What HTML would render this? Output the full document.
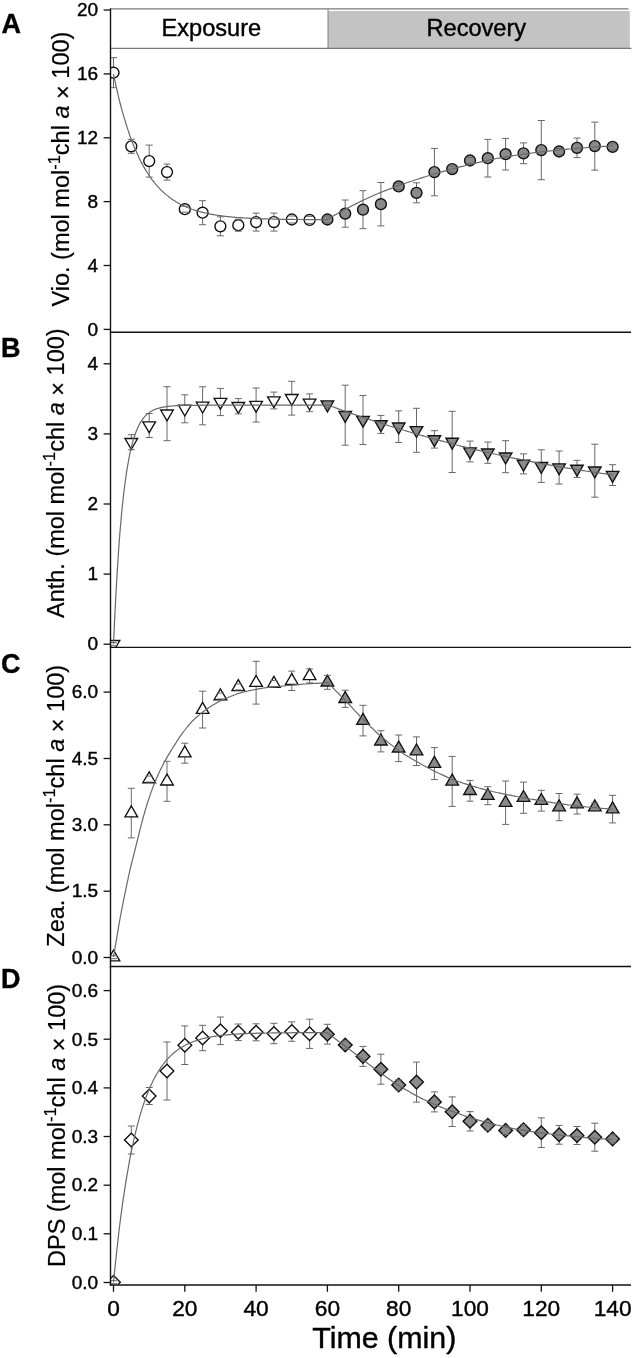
<!DOCTYPE html>
<html><head><meta charset="utf-8"><title>Figure</title>
<style>html,body{margin:0;padding:0;background:#fff}svg{display:block}</style></head>
<body>
<svg width="633" height="1358" viewBox="0 0 633 1358" font-family="'Liberation Sans', sans-serif" fill="#000">
<style>text{stroke:#000;stroke-width:0.4px}</style>
<defs>
<clipPath id="clipA"><rect x="110.5" y="9" width="523" height="323.2"/></clipPath>
<clipPath id="clipB"><rect x="110.5" y="332.2" width="523" height="315.1"/></clipPath>
<clipPath id="clipC"><rect x="110.5" y="647.3" width="523" height="318.9"/></clipPath>
<clipPath id="clipD"><rect x="110.5" y="966.2" width="523" height="318.3"/></clipPath>
</defs>
<rect width="633" height="1358" fill="#fff"/>
<path d="M110,8.9H628.5" stroke="#7a7a7a" stroke-width="1.2" fill="none"/><rect x="328" y="11" width="301.8" height="37.2" fill="#c3c3c3"/><path d="M110,48.3H631.4" stroke="#777" stroke-width="1.2" fill="none"/><path d="M328,9V48.3" stroke="#808080" stroke-width="1" fill="none"/><text x="211.4" y="36.2" font-size="23.6" text-anchor="middle">Exposure</text><text x="476.3" y="36.2" font-size="23.6" text-anchor="middle">Recovery</text>
<g id="panelA" clip-path="url(#clipA)"><path d="M113.5,57.7V87.7" stroke="#686868" stroke-width="1" fill="none"/><path d="M131.3,139.3V153.3" stroke="#686868" stroke-width="1" fill="none"/><path d="M149.2,145.1V177.1" stroke="#686868" stroke-width="1" fill="none"/><path d="M167.0,164.1V180.1" stroke="#686868" stroke-width="1" fill="none"/><path d="M184.8,206.2V212.2" stroke="#686868" stroke-width="1" fill="none"/><path d="M202.6,200.7V224.7" stroke="#686868" stroke-width="1" fill="none"/><path d="M220.4,216.8V235.8" stroke="#686868" stroke-width="1" fill="none"/><path d="M238.3,219.2V231.2" stroke="#686868" stroke-width="1" fill="none"/><path d="M256.1,213.1V231.1" stroke="#686868" stroke-width="1" fill="none"/><path d="M273.9,213.1V231.1" stroke="#686868" stroke-width="1" fill="none"/><path d="M291.8,216.0V223.0" stroke="#686868" stroke-width="1" fill="none"/><path d="M309.6,216.4V223.4" stroke="#686868" stroke-width="1" fill="none"/><path d="M327.4,216.0V223.0" stroke="#686868" stroke-width="1" fill="none"/><path d="M345.2,200.0V227.2" stroke="#686868" stroke-width="1" fill="none"/><path d="M363.0,190.7V228.7" stroke="#686868" stroke-width="1" fill="none"/><path d="M380.9,182.5V225.9" stroke="#686868" stroke-width="1" fill="none"/><path d="M398.7,183.4V189.4" stroke="#686868" stroke-width="1" fill="none"/><path d="M416.5,182.8V202.8" stroke="#686868" stroke-width="1" fill="none"/><path d="M434.4,148.4V195.8" stroke="#686868" stroke-width="1" fill="none"/><path d="M452.2,166.1V172.1" stroke="#686868" stroke-width="1" fill="none"/><path d="M470.0,157.5V163.5" stroke="#686868" stroke-width="1" fill="none"/><path d="M487.8,139.4V177.0" stroke="#686868" stroke-width="1" fill="none"/><path d="M505.6,138.4V170.0" stroke="#686868" stroke-width="1" fill="none"/><path d="M523.5,142.9V163.7" stroke="#686868" stroke-width="1" fill="none"/><path d="M541.3,120.5V179.7" stroke="#686868" stroke-width="1" fill="none"/><path d="M559.1,148.5V154.5" stroke="#686868" stroke-width="1" fill="none"/><path d="M577.0,138.0V157.6" stroke="#686868" stroke-width="1" fill="none"/><path d="M594.8,122.1V170.1" stroke="#686868" stroke-width="1" fill="none"/><path d="M612.6,143.8V149.8" stroke="#686868" stroke-width="1" fill="none"/><circle cx="113.5" cy="72.7" r="5.45" fill="#fff" stroke="#111" stroke-width="1.4"/><circle cx="131.3" cy="146.3" r="5.45" fill="#fff" stroke="#111" stroke-width="1.4"/><circle cx="149.2" cy="161.1" r="5.45" fill="#fff" stroke="#111" stroke-width="1.4"/><circle cx="167.0" cy="172.1" r="5.45" fill="#fff" stroke="#111" stroke-width="1.4"/><circle cx="184.8" cy="209.2" r="5.45" fill="#fff" stroke="#111" stroke-width="1.4"/><circle cx="202.6" cy="212.7" r="5.45" fill="#fff" stroke="#111" stroke-width="1.4"/><circle cx="220.4" cy="226.3" r="5.45" fill="#fff" stroke="#111" stroke-width="1.4"/><circle cx="238.3" cy="225.2" r="5.45" fill="#fff" stroke="#111" stroke-width="1.4"/><circle cx="256.1" cy="222.1" r="5.45" fill="#fff" stroke="#111" stroke-width="1.4"/><circle cx="273.9" cy="222.1" r="5.45" fill="#fff" stroke="#111" stroke-width="1.4"/><circle cx="291.8" cy="219.5" r="5.45" fill="#fff" stroke="#111" stroke-width="1.4"/><circle cx="309.6" cy="219.9" r="5.45" fill="#fff" stroke="#111" stroke-width="1.4"/><circle cx="327.4" cy="219.5" r="5.45" fill="#8a8a8a" stroke="#111" stroke-width="1.4"/><circle cx="345.2" cy="213.6" r="5.45" fill="#8a8a8a" stroke="#111" stroke-width="1.4"/><circle cx="363.0" cy="209.7" r="5.45" fill="#8a8a8a" stroke="#111" stroke-width="1.4"/><circle cx="380.9" cy="204.2" r="5.45" fill="#8a8a8a" stroke="#111" stroke-width="1.4"/><circle cx="398.7" cy="186.4" r="5.45" fill="#8a8a8a" stroke="#111" stroke-width="1.4"/><circle cx="416.5" cy="192.8" r="5.45" fill="#8a8a8a" stroke="#111" stroke-width="1.4"/><circle cx="434.4" cy="172.1" r="5.45" fill="#8a8a8a" stroke="#111" stroke-width="1.4"/><circle cx="452.2" cy="169.1" r="5.45" fill="#8a8a8a" stroke="#111" stroke-width="1.4"/><circle cx="470.0" cy="160.5" r="5.45" fill="#8a8a8a" stroke="#111" stroke-width="1.4"/><circle cx="487.8" cy="158.2" r="5.45" fill="#8a8a8a" stroke="#111" stroke-width="1.4"/><circle cx="505.6" cy="154.2" r="5.45" fill="#8a8a8a" stroke="#111" stroke-width="1.4"/><circle cx="523.5" cy="153.3" r="5.45" fill="#8a8a8a" stroke="#111" stroke-width="1.4"/><circle cx="541.3" cy="150.1" r="5.45" fill="#8a8a8a" stroke="#111" stroke-width="1.4"/><circle cx="559.1" cy="151.5" r="5.45" fill="#8a8a8a" stroke="#111" stroke-width="1.4"/><circle cx="577.0" cy="147.8" r="5.45" fill="#8a8a8a" stroke="#111" stroke-width="1.4"/><circle cx="594.8" cy="146.1" r="5.45" fill="#8a8a8a" stroke="#111" stroke-width="1.4"/><circle cx="612.6" cy="146.8" r="5.45" fill="#8a8a8a" stroke="#111" stroke-width="1.4"/><path d="M110.0,57.7H117.0M110.0,87.7H117.0" stroke="#686868" stroke-width="1" fill="none"/><path d="M127.8,139.3H134.8M127.8,153.3H134.8" stroke="#686868" stroke-width="1" fill="none"/><path d="M145.7,145.1H152.7M145.7,177.1H152.7" stroke="#686868" stroke-width="1" fill="none"/><path d="M163.5,164.1H170.5M163.5,180.1H170.5" stroke="#686868" stroke-width="1" fill="none"/><path d="M181.3,206.2H188.3M181.3,212.2H188.3" stroke="#686868" stroke-width="1" fill="none"/><path d="M199.1,200.7H206.1M199.1,224.7H206.1" stroke="#686868" stroke-width="1" fill="none"/><path d="M216.9,216.8H223.9M216.9,235.8H223.9" stroke="#686868" stroke-width="1" fill="none"/><path d="M234.8,219.2H241.8M234.8,231.2H241.8" stroke="#686868" stroke-width="1" fill="none"/><path d="M252.6,213.1H259.6M252.6,231.1H259.6" stroke="#686868" stroke-width="1" fill="none"/><path d="M270.4,213.1H277.4M270.4,231.1H277.4" stroke="#686868" stroke-width="1" fill="none"/><path d="M288.2,216.0H295.2M288.2,223.0H295.2" stroke="#686868" stroke-width="1" fill="none"/><path d="M306.1,216.4H313.1M306.1,223.4H313.1" stroke="#686868" stroke-width="1" fill="none"/><path d="M323.9,216.0H330.9M323.9,223.0H330.9" stroke="#686868" stroke-width="1" fill="none"/><path d="M341.7,200.0H348.7M341.7,227.2H348.7" stroke="#686868" stroke-width="1" fill="none"/><path d="M359.5,190.7H366.5M359.5,228.7H366.5" stroke="#686868" stroke-width="1" fill="none"/><path d="M377.4,182.5H384.4M377.4,225.9H384.4" stroke="#686868" stroke-width="1" fill="none"/><path d="M395.2,183.4H402.2M395.2,189.4H402.2" stroke="#686868" stroke-width="1" fill="none"/><path d="M413.0,182.8H420.0M413.0,202.8H420.0" stroke="#686868" stroke-width="1" fill="none"/><path d="M430.9,148.4H437.9M430.9,195.8H437.9" stroke="#686868" stroke-width="1" fill="none"/><path d="M448.7,166.1H455.7M448.7,172.1H455.7" stroke="#686868" stroke-width="1" fill="none"/><path d="M466.5,157.5H473.5M466.5,163.5H473.5" stroke="#686868" stroke-width="1" fill="none"/><path d="M484.3,139.4H491.3M484.3,177.0H491.3" stroke="#686868" stroke-width="1" fill="none"/><path d="M502.1,138.4H509.1M502.1,170.0H509.1" stroke="#686868" stroke-width="1" fill="none"/><path d="M520.0,142.9H527.0M520.0,163.7H527.0" stroke="#686868" stroke-width="1" fill="none"/><path d="M537.8,120.5H544.8M537.8,179.7H544.8" stroke="#686868" stroke-width="1" fill="none"/><path d="M555.6,148.5H562.6M555.6,154.5H562.6" stroke="#686868" stroke-width="1" fill="none"/><path d="M573.5,138.0H580.5M573.5,157.6H580.5" stroke="#686868" stroke-width="1" fill="none"/><path d="M591.3,122.1H598.3M591.3,170.1H598.3" stroke="#686868" stroke-width="1" fill="none"/><path d="M609.1,143.8H616.1M609.1,149.8H616.1" stroke="#686868" stroke-width="1" fill="none"/><path d="M113.5,74.2 L114.4,78.5 L115.3,82.6 L116.2,86.6 L117.1,90.5 L118.0,94.3 L118.8,98.0 L119.7,101.6 L120.6,105.0 L121.5,108.4 L122.4,111.7 L123.3,114.9 L124.2,117.9 L125.1,120.9 L126.0,123.8 L126.9,126.6 L127.8,129.4 L128.7,132.0 L129.5,134.6 L130.4,137.1 L131.3,139.5 L132.2,141.9 L133.1,144.2 L134.0,146.4 L134.9,148.5 L135.8,150.6 L136.7,152.6 L137.6,154.6 L138.5,156.5 L139.3,158.4 L140.2,160.2 L141.1,161.9 L142.0,163.6 L142.9,165.3 L143.8,166.9 L144.7,168.4 L145.6,169.9 L146.5,171.4 L147.4,172.8 L148.3,174.2 L149.2,175.5 L150.0,176.8 L150.9,178.1 L151.8,179.3 L152.7,180.5 L153.6,181.6 L154.5,182.8 L155.4,183.9 L156.3,184.9 L157.2,185.9 L158.1,186.9 L159.0,187.9 L159.8,188.8 L160.7,189.7 L161.6,190.6 L162.5,191.5 L163.4,192.3 L164.3,193.1 L165.2,193.9 L166.1,194.6 L167.0,195.4 L167.9,196.1 L168.8,196.8 L169.6,197.5 L170.5,198.1 L171.4,198.8 L172.3,199.4 L173.2,200.0 L174.1,200.6 L175.0,201.1 L175.9,201.7 L176.8,202.2 L177.7,202.7 L178.6,203.2 L179.5,203.7 L180.3,204.2 L181.2,204.6 L182.1,205.1 L183.0,205.5 L183.9,205.9 L184.8,206.3 L185.7,206.7 L186.6,207.1 L187.5,207.5 L188.4,207.8 L189.3,208.2 L190.1,208.5 L191.0,208.9 L191.9,209.2 L192.8,209.5 L193.7,209.8 L194.6,210.1 L195.5,210.4 L196.4,210.7 L197.3,210.9 L198.2,211.2 L199.1,211.4 L200.0,211.7 L200.8,211.9 L201.7,212.2 L202.6,212.4 L203.5,212.6 L204.4,212.8 L205.3,213.0 L206.2,213.2 L207.1,213.4 L208.0,213.6 L208.9,213.8 L209.8,213.9 L210.6,214.1 L211.5,214.3 L212.4,214.4 L213.3,214.6 L214.2,214.8 L215.1,214.9 L216.0,215.0 L216.9,215.2 L217.8,215.3 L218.7,215.5 L219.6,215.6 L220.4,215.7 L221.3,215.8 L222.2,215.9 L223.1,216.1 L224.0,216.2 L224.9,216.3 L225.8,216.4 L226.7,216.5 L227.6,216.6 L228.5,216.7 L229.4,216.8 L230.3,216.8 L231.1,216.9 L232.0,217.0 L232.9,217.1 L233.8,217.2 L234.7,217.3 L235.6,217.3 L236.5,217.4 L237.4,217.5 L238.3,217.5 L239.2,217.6 L240.1,217.7 L240.9,217.7 L241.8,217.8 L242.7,217.9 L243.6,217.9 L244.5,218.0 L245.4,218.0 L246.3,218.1 L247.2,218.1 L248.1,218.2 L249.0,218.2 L249.9,218.3 L250.8,218.3 L251.6,218.4 L252.5,218.4 L253.4,218.4 L254.3,218.5 L255.2,218.5 L256.1,218.6 L257.0,218.6 L257.9,218.6 L258.8,218.7 L259.7,218.7 L260.6,218.7 L261.4,218.8 L262.3,218.8 L263.2,218.8 L264.1,218.8 L265.0,218.9 L265.9,218.9 L266.8,218.9 L267.7,219.0 L268.6,219.0 L269.5,219.0 L270.4,219.0 L271.3,219.0 L272.1,219.1 L273.0,219.1 L273.9,219.1 L274.8,219.1 L275.7,219.2 L276.6,219.2 L277.5,219.2 L278.4,219.2 L279.3,219.2 L280.2,219.2 L281.1,219.3 L281.9,219.3 L282.8,219.3 L283.7,219.3 L284.6,219.3 L285.5,219.3 L286.4,219.3 L287.3,219.4 L288.2,219.4 L289.1,219.4 L290.0,219.4 L290.9,219.4 L291.8,219.4 L292.6,219.4 L293.5,219.4 L294.4,219.5 L295.3,219.5 L296.2,219.5 L297.1,219.5 L298.0,219.5 L298.9,219.5 L299.8,219.5 L300.7,219.5 L301.6,219.5 L302.4,219.5 L303.3,219.5 L304.2,219.6 L305.1,219.6 L306.0,219.6 L306.9,219.6 L307.8,219.6 L308.7,219.6 L309.6,219.6 L310.5,219.6 L311.4,219.6 L312.2,219.6 L313.1,219.6 L314.0,219.6 L314.9,219.6 L315.8,219.6 L316.7,219.6 L317.6,219.6 L318.5,219.6 L319.4,219.6 L320.3,219.7 L321.2,219.7 L322.1,219.7 L322.9,219.7 L323.8,219.7 L324.7,219.7 L325.6,219.7 L326.5,219.7 L327.4,219.7 L327.4,219.2 L329.6,218.0 L331.9,216.7 L334.1,215.4 L336.3,214.2 L338.5,212.9 L340.8,211.7 L343.0,210.5 L345.2,209.3 L347.5,208.1 L349.7,207.0 L351.9,205.8 L354.1,204.7 L356.4,203.6 L358.6,202.5 L360.8,201.4 L363.0,200.3 L365.3,199.3 L367.5,198.2 L369.7,197.2 L372.0,196.2 L374.2,195.2 L376.4,194.3 L378.6,193.3 L380.9,192.4 L383.1,191.5 L385.3,190.6 L387.6,189.7 L389.8,188.9 L392.0,188.1 L394.2,187.2 L396.5,186.4 L398.7,185.6 L400.9,184.8 L403.2,184.0 L405.4,183.2 L407.6,182.5 L409.8,181.7 L412.1,181.0 L414.3,180.2 L416.5,179.5 L418.8,178.8 L421.0,178.1 L423.2,177.4 L425.4,176.7 L427.7,176.0 L429.9,175.3 L432.1,174.7 L434.4,174.0 L436.6,173.3 L438.8,172.7 L441.0,172.1 L443.3,171.4 L445.5,170.8 L447.7,170.2 L449.9,169.6 L452.2,169.0 L454.4,168.4 L456.6,167.8 L458.9,167.2 L461.1,166.6 L463.3,166.1 L465.5,165.5 L467.8,164.9 L470.0,164.4 L472.2,163.9 L474.5,163.3 L476.7,162.8 L478.9,162.3 L481.1,161.8 L483.4,161.3 L485.6,160.8 L487.8,160.3 L490.1,159.8 L492.3,159.4 L494.5,158.9 L496.7,158.5 L499.0,158.1 L501.2,157.7 L503.4,157.3 L505.6,156.9 L507.9,156.5 L510.1,156.2 L512.3,155.8 L514.6,155.5 L516.8,155.2 L519.0,154.8 L521.2,154.5 L523.5,154.2 L525.7,153.9 L527.9,153.6 L530.2,153.3 L532.4,153.0 L534.6,152.7 L536.8,152.4 L539.1,152.2 L541.3,151.9 L543.5,151.6 L545.8,151.4 L548.0,151.1 L550.2,150.9 L552.4,150.7 L554.7,150.4 L556.9,150.2 L559.1,150.0 L561.4,149.8 L563.6,149.6 L565.8,149.4 L568.0,149.2 L570.3,149.0 L572.5,148.8 L574.7,148.6 L577.0,148.4 L579.2,148.2 L581.4,148.0 L583.6,147.8 L585.9,147.7 L588.1,147.5 L590.3,147.3 L592.5,147.2 L594.8,147.0 L597.0,146.8 L599.2,146.7 L601.5,146.6 L603.7,146.4 L605.9,146.3 L608.1,146.2 L610.4,146.0 L612.6,145.9" fill="none" stroke="#686868" stroke-width="1.2" stroke-linejoin="round"/></g><g id="panelB" clip-path="url(#clipB)"><path d="M113.5,642.7V645.7" stroke="#686868" stroke-width="1" fill="none"/><path d="M131.3,434.7V449.7" stroke="#686868" stroke-width="1" fill="none"/><path d="M149.2,413.5V437.5" stroke="#686868" stroke-width="1" fill="none"/><path d="M167.0,386.7V440.7" stroke="#686868" stroke-width="1" fill="none"/><path d="M184.8,394.8V422.8" stroke="#686868" stroke-width="1" fill="none"/><path d="M202.6,386.8V424.8" stroke="#686868" stroke-width="1" fill="none"/><path d="M220.4,388.4V415.6" stroke="#686868" stroke-width="1" fill="none"/><path d="M238.3,398.6V413.8" stroke="#686868" stroke-width="1" fill="none"/><path d="M256.1,388.0V422.0" stroke="#686868" stroke-width="1" fill="none"/><path d="M273.9,392.1V408.9" stroke="#686868" stroke-width="1" fill="none"/><path d="M291.8,381.3V415.1" stroke="#686868" stroke-width="1" fill="none"/><path d="M309.6,393.9V411.7" stroke="#686868" stroke-width="1" fill="none"/><path d="M327.4,401.7V407.7" stroke="#686868" stroke-width="1" fill="none"/><path d="M345.2,385.2V445.2" stroke="#686868" stroke-width="1" fill="none"/><path d="M363.0,395.5V444.5" stroke="#686868" stroke-width="1" fill="none"/><path d="M380.9,415.4V433.4" stroke="#686868" stroke-width="1" fill="none"/><path d="M398.7,410.9V442.5" stroke="#686868" stroke-width="1" fill="none"/><path d="M416.5,408.3V452.3" stroke="#686868" stroke-width="1" fill="none"/><path d="M434.4,430.7V448.1" stroke="#686868" stroke-width="1" fill="none"/><path d="M452.2,411.3V472.5" stroke="#686868" stroke-width="1" fill="none"/><path d="M470.0,441.1V461.9" stroke="#686868" stroke-width="1" fill="none"/><path d="M487.8,442.1V463.3" stroke="#686868" stroke-width="1" fill="none"/><path d="M505.6,440.7V472.7" stroke="#686868" stroke-width="1" fill="none"/><path d="M523.5,453.9V473.9" stroke="#686868" stroke-width="1" fill="none"/><path d="M541.3,449.8V482.4" stroke="#686868" stroke-width="1" fill="none"/><path d="M559.1,451.0V484.0" stroke="#686868" stroke-width="1" fill="none"/><path d="M577.0,460.3V477.5" stroke="#686868" stroke-width="1" fill="none"/><path d="M594.8,444.2V497.2" stroke="#686868" stroke-width="1" fill="none"/><path d="M612.6,464.7V485.5" stroke="#686868" stroke-width="1" fill="none"/><path d="M107.2,640.5H119.8L113.5,651.4Z" fill="#fff" stroke="#111" stroke-width="1.35" stroke-linejoin="miter"/><path d="M125.0,438.5H137.6L131.3,449.4Z" fill="#fff" stroke="#111" stroke-width="1.35" stroke-linejoin="miter"/><path d="M142.8,421.8H155.5L149.2,432.7Z" fill="#fff" stroke="#111" stroke-width="1.35" stroke-linejoin="miter"/><path d="M160.7,410.0H173.3L167.0,420.9Z" fill="#fff" stroke="#111" stroke-width="1.35" stroke-linejoin="miter"/><path d="M178.5,405.1H191.1L184.8,416.0Z" fill="#fff" stroke="#111" stroke-width="1.35" stroke-linejoin="miter"/><path d="M196.3,402.1H208.9L202.6,413.0Z" fill="#fff" stroke="#111" stroke-width="1.35" stroke-linejoin="miter"/><path d="M214.1,398.3H226.8L220.4,409.2Z" fill="#fff" stroke="#111" stroke-width="1.35" stroke-linejoin="miter"/><path d="M232.0,402.5H244.6L238.3,413.4Z" fill="#fff" stroke="#111" stroke-width="1.35" stroke-linejoin="miter"/><path d="M249.8,401.3H262.4L256.1,412.2Z" fill="#fff" stroke="#111" stroke-width="1.35" stroke-linejoin="miter"/><path d="M267.6,396.8H280.2L273.9,407.7Z" fill="#fff" stroke="#111" stroke-width="1.35" stroke-linejoin="miter"/><path d="M285.4,394.5H298.1L291.8,405.4Z" fill="#fff" stroke="#111" stroke-width="1.35" stroke-linejoin="miter"/><path d="M303.3,399.1H315.9L309.6,410.0Z" fill="#fff" stroke="#111" stroke-width="1.35" stroke-linejoin="miter"/><path d="M321.1,401.0H333.7L327.4,411.9Z" fill="#8a8a8a" stroke="#111" stroke-width="1.35" stroke-linejoin="miter"/><path d="M338.9,411.5H351.5L345.2,422.4Z" fill="#8a8a8a" stroke="#111" stroke-width="1.35" stroke-linejoin="miter"/><path d="M356.7,416.3H369.3L363.0,427.2Z" fill="#8a8a8a" stroke="#111" stroke-width="1.35" stroke-linejoin="miter"/><path d="M374.6,420.7H387.2L380.9,431.6Z" fill="#8a8a8a" stroke="#111" stroke-width="1.35" stroke-linejoin="miter"/><path d="M392.4,423.0H405.0L398.7,433.9Z" fill="#8a8a8a" stroke="#111" stroke-width="1.35" stroke-linejoin="miter"/><path d="M410.2,426.6H422.8L416.5,437.5Z" fill="#8a8a8a" stroke="#111" stroke-width="1.35" stroke-linejoin="miter"/><path d="M428.1,435.7H440.7L434.4,446.6Z" fill="#8a8a8a" stroke="#111" stroke-width="1.35" stroke-linejoin="miter"/><path d="M445.9,438.2H458.5L452.2,449.1Z" fill="#8a8a8a" stroke="#111" stroke-width="1.35" stroke-linejoin="miter"/><path d="M463.7,447.8H476.3L470.0,458.7Z" fill="#8a8a8a" stroke="#111" stroke-width="1.35" stroke-linejoin="miter"/><path d="M481.5,449.0H494.1L487.8,459.9Z" fill="#8a8a8a" stroke="#111" stroke-width="1.35" stroke-linejoin="miter"/><path d="M499.3,453.0H511.9L505.6,463.9Z" fill="#8a8a8a" stroke="#111" stroke-width="1.35" stroke-linejoin="miter"/><path d="M517.2,460.2H529.8L523.5,471.1Z" fill="#8a8a8a" stroke="#111" stroke-width="1.35" stroke-linejoin="miter"/><path d="M535.0,462.4H547.6L541.3,473.3Z" fill="#8a8a8a" stroke="#111" stroke-width="1.35" stroke-linejoin="miter"/><path d="M552.8,463.8H565.4L559.1,474.7Z" fill="#8a8a8a" stroke="#111" stroke-width="1.35" stroke-linejoin="miter"/><path d="M570.7,465.2H583.2L577.0,476.1Z" fill="#8a8a8a" stroke="#111" stroke-width="1.35" stroke-linejoin="miter"/><path d="M588.5,467.0H601.1L594.8,477.9Z" fill="#8a8a8a" stroke="#111" stroke-width="1.35" stroke-linejoin="miter"/><path d="M606.3,471.4H618.9L612.6,482.3Z" fill="#8a8a8a" stroke="#111" stroke-width="1.35" stroke-linejoin="miter"/><path d="M110.0,642.7H117.0M110.0,645.7H117.0" stroke="#686868" stroke-width="1" fill="none"/><path d="M127.8,434.7H134.8M127.8,449.7H134.8" stroke="#686868" stroke-width="1" fill="none"/><path d="M145.7,413.5H152.7M145.7,437.5H152.7" stroke="#686868" stroke-width="1" fill="none"/><path d="M163.5,386.7H170.5M163.5,440.7H170.5" stroke="#686868" stroke-width="1" fill="none"/><path d="M181.3,394.8H188.3M181.3,422.8H188.3" stroke="#686868" stroke-width="1" fill="none"/><path d="M199.1,386.8H206.1M199.1,424.8H206.1" stroke="#686868" stroke-width="1" fill="none"/><path d="M216.9,388.4H223.9M216.9,415.6H223.9" stroke="#686868" stroke-width="1" fill="none"/><path d="M234.8,398.6H241.8M234.8,413.8H241.8" stroke="#686868" stroke-width="1" fill="none"/><path d="M252.6,388.0H259.6M252.6,422.0H259.6" stroke="#686868" stroke-width="1" fill="none"/><path d="M270.4,392.1H277.4M270.4,408.9H277.4" stroke="#686868" stroke-width="1" fill="none"/><path d="M288.2,381.3H295.2M288.2,415.1H295.2" stroke="#686868" stroke-width="1" fill="none"/><path d="M306.1,393.9H313.1M306.1,411.7H313.1" stroke="#686868" stroke-width="1" fill="none"/><path d="M323.9,401.7H330.9M323.9,407.7H330.9" stroke="#686868" stroke-width="1" fill="none"/><path d="M341.7,385.2H348.7M341.7,445.2H348.7" stroke="#686868" stroke-width="1" fill="none"/><path d="M359.5,395.5H366.5M359.5,444.5H366.5" stroke="#686868" stroke-width="1" fill="none"/><path d="M377.4,415.4H384.4M377.4,433.4H384.4" stroke="#686868" stroke-width="1" fill="none"/><path d="M395.2,410.9H402.2M395.2,442.5H402.2" stroke="#686868" stroke-width="1" fill="none"/><path d="M413.0,408.3H420.0M413.0,452.3H420.0" stroke="#686868" stroke-width="1" fill="none"/><path d="M430.9,430.7H437.9M430.9,448.1H437.9" stroke="#686868" stroke-width="1" fill="none"/><path d="M448.7,411.3H455.7M448.7,472.5H455.7" stroke="#686868" stroke-width="1" fill="none"/><path d="M466.5,441.1H473.5M466.5,461.9H473.5" stroke="#686868" stroke-width="1" fill="none"/><path d="M484.3,442.1H491.3M484.3,463.3H491.3" stroke="#686868" stroke-width="1" fill="none"/><path d="M502.1,440.7H509.1M502.1,472.7H509.1" stroke="#686868" stroke-width="1" fill="none"/><path d="M520.0,453.9H527.0M520.0,473.9H527.0" stroke="#686868" stroke-width="1" fill="none"/><path d="M537.8,449.8H544.8M537.8,482.4H544.8" stroke="#686868" stroke-width="1" fill="none"/><path d="M555.6,451.0H562.6M555.6,484.0H562.6" stroke="#686868" stroke-width="1" fill="none"/><path d="M573.5,460.3H580.5M573.5,477.5H580.5" stroke="#686868" stroke-width="1" fill="none"/><path d="M591.3,444.2H598.3M591.3,497.2H598.3" stroke="#686868" stroke-width="1" fill="none"/><path d="M609.1,464.7H616.1M609.1,485.5H616.1" stroke="#686868" stroke-width="1" fill="none"/><path d="M113.5,644.2 L114.4,624.3 L115.3,606.1 L116.2,589.4 L117.1,574.1 L118.0,560.0 L118.8,547.2 L119.7,535.4 L120.6,524.5 L121.5,514.6 L122.4,505.5 L123.3,497.2 L124.2,489.5 L125.1,482.5 L126.0,476.1 L126.9,470.2 L127.8,464.8 L128.7,459.8 L129.5,455.3 L130.4,451.1 L131.3,447.3 L132.2,443.8 L133.1,440.6 L134.0,437.7 L134.9,435.0 L135.8,432.5 L136.7,430.2 L137.6,428.1 L138.5,426.2 L139.3,424.5 L140.2,422.9 L141.1,421.4 L142.0,420.1 L142.9,418.8 L143.8,417.7 L144.7,416.7 L145.6,415.7 L146.5,414.8 L147.4,414.0 L148.3,413.3 L149.2,412.6 L150.0,412.0 L150.9,411.4 L151.8,410.9 L152.7,410.4 L153.6,410.0 L154.5,409.6 L155.4,409.2 L156.3,408.9 L157.2,408.6 L158.1,408.3 L159.0,408.1 L159.8,407.8 L160.7,407.6 L161.6,407.4 L162.5,407.2 L163.4,407.1 L164.3,406.9 L165.2,406.8 L166.1,406.6 L167.0,406.5 L167.9,406.4 L168.8,406.3 L169.6,406.2 L170.5,406.1 L171.4,406.0 L172.3,406.0 L173.2,405.9 L174.1,405.9 L175.0,405.8 L175.9,405.7 L176.8,405.7 L177.7,405.7 L178.6,405.6 L179.5,405.6 L180.3,405.6 L181.2,405.5 L182.1,405.5 L183.0,405.5 L183.9,405.5 L184.8,405.4 L185.7,405.4 L186.6,405.4 L187.5,405.4 L188.4,405.4 L189.3,405.3 L190.1,405.3 L191.0,405.3 L191.9,405.3 L192.8,405.3 L193.7,405.3 L194.6,405.3 L195.5,405.3 L196.4,405.3 L197.3,405.3 L198.2,405.3 L199.1,405.3 L200.0,405.3 L200.8,405.2 L201.7,405.2 L202.6,405.2 L203.5,405.2 L204.4,405.2 L205.3,405.2 L206.2,405.2 L207.1,405.2 L208.0,405.2 L208.9,405.2 L209.8,405.2 L210.6,405.2 L211.5,405.2 L212.4,405.2 L213.3,405.2 L214.2,405.2 L215.1,405.2 L216.0,405.2 L216.9,405.2 L217.8,405.2 L218.7,405.2 L219.6,405.2 L220.4,405.2 L221.3,405.2 L222.2,405.2 L223.1,405.2 L224.0,405.2 L224.9,405.2 L225.8,405.2 L226.7,405.2 L227.6,405.2 L228.5,405.2 L229.4,405.2 L230.3,405.2 L231.1,405.2 L232.0,405.2 L232.9,405.2 L233.8,405.2 L234.7,405.2 L235.6,405.2 L236.5,405.2 L237.4,405.2 L238.3,405.2 L239.2,405.2 L240.1,405.2 L240.9,405.2 L241.8,405.2 L242.7,405.2 L243.6,405.2 L244.5,405.2 L245.4,405.2 L246.3,405.2 L247.2,405.2 L248.1,405.2 L249.0,405.2 L249.9,405.2 L250.8,405.2 L251.6,405.2 L252.5,405.2 L253.4,405.2 L254.3,405.2 L255.2,405.2 L256.1,405.2 L257.0,405.2 L257.9,405.2 L258.8,405.2 L259.7,405.2 L260.6,405.2 L261.4,405.2 L262.3,405.2 L263.2,405.2 L264.1,405.2 L265.0,405.2 L265.9,405.2 L266.8,405.2 L267.7,405.2 L268.6,405.2 L269.5,405.2 L270.4,405.2 L271.3,405.2 L272.1,405.2 L273.0,405.2 L273.9,405.2 L274.8,405.2 L275.7,405.2 L276.6,405.2 L277.5,405.2 L278.4,405.2 L279.3,405.2 L280.2,405.2 L281.1,405.2 L281.9,405.2 L282.8,405.2 L283.7,405.2 L284.6,405.2 L285.5,405.2 L286.4,405.2 L287.3,405.2 L288.2,405.2 L289.1,405.2 L290.0,405.2 L290.9,405.2 L291.8,405.2 L292.6,405.2 L293.5,405.2 L294.4,405.2 L295.3,405.2 L296.2,405.2 L297.1,405.2 L298.0,405.2 L298.9,405.2 L299.8,405.2 L300.7,405.2 L301.6,405.2 L302.4,405.2 L303.3,405.2 L304.2,405.2 L305.1,405.2 L306.0,405.2 L306.9,405.2 L307.8,405.2 L308.7,405.2 L309.6,405.2 L310.5,405.2 L311.4,405.2 L312.2,405.2 L313.1,405.2 L314.0,405.2 L314.9,405.2 L315.8,405.2 L316.7,405.2 L317.6,405.2 L318.5,405.2 L319.4,405.2 L320.3,405.2 L321.2,405.2 L322.1,405.2 L322.9,405.2 L323.8,405.2 L324.7,405.2 L325.6,405.2 L326.5,405.2 L327.4,405.2 L327.4,404.9 L329.6,405.7 L331.9,406.5 L334.1,407.3 L336.3,408.1 L338.5,408.9 L340.8,409.7 L343.0,410.5 L345.2,411.3 L347.5,412.1 L349.7,412.9 L351.9,413.6 L354.1,414.4 L356.4,415.1 L358.6,415.9 L360.8,416.7 L363.0,417.4 L365.3,418.1 L367.5,418.9 L369.7,419.6 L372.0,420.3 L374.2,421.1 L376.4,421.8 L378.6,422.5 L380.9,423.2 L383.1,423.9 L385.3,424.6 L387.6,425.3 L389.8,426.0 L392.0,426.7 L394.2,427.3 L396.5,428.0 L398.7,428.7 L400.9,429.4 L403.2,430.0 L405.4,430.7 L407.6,431.4 L409.8,432.0 L412.1,432.7 L414.3,433.4 L416.5,434.0 L418.8,434.6 L421.0,435.3 L423.2,435.9 L425.4,436.5 L427.7,437.2 L429.9,437.8 L432.1,438.4 L434.4,439.0 L436.6,439.6 L438.8,440.2 L441.0,440.8 L443.3,441.4 L445.5,442.0 L447.7,442.6 L449.9,443.2 L452.2,443.8 L454.4,444.4 L456.6,445.0 L458.9,445.5 L461.1,446.1 L463.3,446.6 L465.5,447.2 L467.8,447.8 L470.0,448.3 L472.2,448.8 L474.5,449.4 L476.7,449.9 L478.9,450.4 L481.1,451.0 L483.4,451.5 L485.6,452.0 L487.8,452.5 L490.1,453.0 L492.3,453.5 L494.5,454.0 L496.7,454.5 L499.0,455.0 L501.2,455.4 L503.4,455.9 L505.6,456.4 L507.9,456.9 L510.1,457.3 L512.3,457.8 L514.6,458.3 L516.8,458.7 L519.0,459.2 L521.2,459.7 L523.5,460.1 L525.7,460.5 L527.9,461.0 L530.2,461.4 L532.4,461.8 L534.6,462.3 L536.8,462.7 L539.1,463.1 L541.3,463.5 L543.5,463.9 L545.8,464.3 L548.0,464.7 L550.2,465.1 L552.4,465.5 L554.7,465.9 L556.9,466.3 L559.1,466.7 L561.4,467.1 L563.6,467.5 L565.8,467.8 L568.0,468.2 L570.3,468.5 L572.5,468.9 L574.7,469.2 L577.0,469.6 L579.2,469.9 L581.4,470.3 L583.6,470.6 L585.9,471.0 L588.1,471.3 L590.3,471.6 L592.5,472.0 L594.8,472.3 L597.0,472.6 L599.2,472.9 L601.5,473.3 L603.7,473.6 L605.9,473.9 L608.1,474.2 L610.4,474.5 L612.6,474.8" fill="none" stroke="#686868" stroke-width="1.2" stroke-linejoin="round"/></g><g id="panelC" clip-path="url(#clipC)"><path d="M113.5,955.7V958.7" stroke="#686868" stroke-width="1" fill="none"/><path d="M131.3,788.3V837.9" stroke="#686868" stroke-width="1" fill="none"/><path d="M149.2,776.0V782.0" stroke="#686868" stroke-width="1" fill="none"/><path d="M167.0,761.3V801.3" stroke="#686868" stroke-width="1" fill="none"/><path d="M184.8,743.2V763.2" stroke="#686868" stroke-width="1" fill="none"/><path d="M202.6,691.2V728.0" stroke="#686868" stroke-width="1" fill="none"/><path d="M220.4,693.0V699.0" stroke="#686868" stroke-width="1" fill="none"/><path d="M238.3,683.9V689.9" stroke="#686868" stroke-width="1" fill="none"/><path d="M256.1,661.3V704.1" stroke="#686868" stroke-width="1" fill="none"/><path d="M273.9,680.5V686.5" stroke="#686868" stroke-width="1" fill="none"/><path d="M291.8,671.1V690.5" stroke="#686868" stroke-width="1" fill="none"/><path d="M309.6,668.9V682.9" stroke="#686868" stroke-width="1" fill="none"/><path d="M327.4,675.3V689.3" stroke="#686868" stroke-width="1" fill="none"/><path d="M345.2,690.2V707.4" stroke="#686868" stroke-width="1" fill="none"/><path d="M363.0,705.3V735.9" stroke="#686868" stroke-width="1" fill="none"/><path d="M380.9,730.7V751.9" stroke="#686868" stroke-width="1" fill="none"/><path d="M398.7,735.0V761.6" stroke="#686868" stroke-width="1" fill="none"/><path d="M416.5,736.9V765.5" stroke="#686868" stroke-width="1" fill="none"/><path d="M434.4,747.6V779.6" stroke="#686868" stroke-width="1" fill="none"/><path d="M452.2,756.4V806.4" stroke="#686868" stroke-width="1" fill="none"/><path d="M470.0,780.4V801.2" stroke="#686868" stroke-width="1" fill="none"/><path d="M487.8,786.7V804.7" stroke="#686868" stroke-width="1" fill="none"/><path d="M505.6,781.0V824.4" stroke="#686868" stroke-width="1" fill="none"/><path d="M523.5,782.1V813.3" stroke="#686868" stroke-width="1" fill="none"/><path d="M541.3,790.3V811.1" stroke="#686868" stroke-width="1" fill="none"/><path d="M559.1,793.5V820.7" stroke="#686868" stroke-width="1" fill="none"/><path d="M577.0,794.2V814.0" stroke="#686868" stroke-width="1" fill="none"/><path d="M594.8,803.1V811.1" stroke="#686868" stroke-width="1" fill="none"/><path d="M612.6,795.3V822.9" stroke="#686868" stroke-width="1" fill="none"/><path d="M107.2,960.9H119.8L113.5,950.0Z" fill="#fff" stroke="#111" stroke-width="1.35" stroke-linejoin="miter"/><path d="M125.0,816.8H137.6L131.3,805.9Z" fill="#fff" stroke="#111" stroke-width="1.35" stroke-linejoin="miter"/><path d="M142.8,782.7H155.5L149.2,771.8Z" fill="#fff" stroke="#111" stroke-width="1.35" stroke-linejoin="miter"/><path d="M160.7,785.0H173.3L167.0,774.1Z" fill="#fff" stroke="#111" stroke-width="1.35" stroke-linejoin="miter"/><path d="M178.5,756.9H191.1L184.8,746.0Z" fill="#fff" stroke="#111" stroke-width="1.35" stroke-linejoin="miter"/><path d="M196.3,713.3H208.9L202.6,702.4Z" fill="#fff" stroke="#111" stroke-width="1.35" stroke-linejoin="miter"/><path d="M214.1,699.7H226.8L220.4,688.8Z" fill="#fff" stroke="#111" stroke-width="1.35" stroke-linejoin="miter"/><path d="M232.0,690.6H244.6L238.3,679.7Z" fill="#fff" stroke="#111" stroke-width="1.35" stroke-linejoin="miter"/><path d="M249.8,686.4H262.4L256.1,675.5Z" fill="#fff" stroke="#111" stroke-width="1.35" stroke-linejoin="miter"/><path d="M267.6,687.2H280.2L273.9,676.3Z" fill="#fff" stroke="#111" stroke-width="1.35" stroke-linejoin="miter"/><path d="M285.4,684.5H298.1L291.8,673.6Z" fill="#fff" stroke="#111" stroke-width="1.35" stroke-linejoin="miter"/><path d="M303.3,679.6H315.9L309.6,668.7Z" fill="#fff" stroke="#111" stroke-width="1.35" stroke-linejoin="miter"/><path d="M321.1,686.0H333.7L327.4,675.1Z" fill="#8a8a8a" stroke="#111" stroke-width="1.35" stroke-linejoin="miter"/><path d="M338.9,702.5H351.5L345.2,691.6Z" fill="#8a8a8a" stroke="#111" stroke-width="1.35" stroke-linejoin="miter"/><path d="M356.7,724.3H369.3L363.0,713.4Z" fill="#8a8a8a" stroke="#111" stroke-width="1.35" stroke-linejoin="miter"/><path d="M374.6,745.0H387.2L380.9,734.1Z" fill="#8a8a8a" stroke="#111" stroke-width="1.35" stroke-linejoin="miter"/><path d="M392.4,752.0H405.0L398.7,741.1Z" fill="#8a8a8a" stroke="#111" stroke-width="1.35" stroke-linejoin="miter"/><path d="M410.2,754.9H422.8L416.5,744.0Z" fill="#8a8a8a" stroke="#111" stroke-width="1.35" stroke-linejoin="miter"/><path d="M428.1,767.3H440.7L434.4,756.4Z" fill="#8a8a8a" stroke="#111" stroke-width="1.35" stroke-linejoin="miter"/><path d="M445.9,785.1H458.5L452.2,774.2Z" fill="#8a8a8a" stroke="#111" stroke-width="1.35" stroke-linejoin="miter"/><path d="M463.7,794.5H476.3L470.0,783.6Z" fill="#8a8a8a" stroke="#111" stroke-width="1.35" stroke-linejoin="miter"/><path d="M481.5,799.4H494.1L487.8,788.5Z" fill="#8a8a8a" stroke="#111" stroke-width="1.35" stroke-linejoin="miter"/><path d="M499.3,806.4H511.9L505.6,795.5Z" fill="#8a8a8a" stroke="#111" stroke-width="1.35" stroke-linejoin="miter"/><path d="M517.2,801.4H529.8L523.5,790.5Z" fill="#8a8a8a" stroke="#111" stroke-width="1.35" stroke-linejoin="miter"/><path d="M535.0,804.4H547.6L541.3,793.5Z" fill="#8a8a8a" stroke="#111" stroke-width="1.35" stroke-linejoin="miter"/><path d="M552.8,810.8H565.4L559.1,799.9Z" fill="#8a8a8a" stroke="#111" stroke-width="1.35" stroke-linejoin="miter"/><path d="M570.7,807.8H583.2L577.0,796.9Z" fill="#8a8a8a" stroke="#111" stroke-width="1.35" stroke-linejoin="miter"/><path d="M588.5,810.8H601.1L594.8,799.9Z" fill="#8a8a8a" stroke="#111" stroke-width="1.35" stroke-linejoin="miter"/><path d="M606.3,812.8H618.9L612.6,801.9Z" fill="#8a8a8a" stroke="#111" stroke-width="1.35" stroke-linejoin="miter"/><path d="M110.0,955.7H117.0M110.0,958.7H117.0" stroke="#686868" stroke-width="1" fill="none"/><path d="M127.8,788.3H134.8M127.8,837.9H134.8" stroke="#686868" stroke-width="1" fill="none"/><path d="M145.7,776.0H152.7M145.7,782.0H152.7" stroke="#686868" stroke-width="1" fill="none"/><path d="M163.5,761.3H170.5M163.5,801.3H170.5" stroke="#686868" stroke-width="1" fill="none"/><path d="M181.3,743.2H188.3M181.3,763.2H188.3" stroke="#686868" stroke-width="1" fill="none"/><path d="M199.1,691.2H206.1M199.1,728.0H206.1" stroke="#686868" stroke-width="1" fill="none"/><path d="M216.9,693.0H223.9M216.9,699.0H223.9" stroke="#686868" stroke-width="1" fill="none"/><path d="M234.8,683.9H241.8M234.8,689.9H241.8" stroke="#686868" stroke-width="1" fill="none"/><path d="M252.6,661.3H259.6M252.6,704.1H259.6" stroke="#686868" stroke-width="1" fill="none"/><path d="M270.4,680.5H277.4M270.4,686.5H277.4" stroke="#686868" stroke-width="1" fill="none"/><path d="M288.2,671.1H295.2M288.2,690.5H295.2" stroke="#686868" stroke-width="1" fill="none"/><path d="M306.1,668.9H313.1M306.1,682.9H313.1" stroke="#686868" stroke-width="1" fill="none"/><path d="M323.9,675.3H330.9M323.9,689.3H330.9" stroke="#686868" stroke-width="1" fill="none"/><path d="M341.7,690.2H348.7M341.7,707.4H348.7" stroke="#686868" stroke-width="1" fill="none"/><path d="M359.5,705.3H366.5M359.5,735.9H366.5" stroke="#686868" stroke-width="1" fill="none"/><path d="M377.4,730.7H384.4M377.4,751.9H384.4" stroke="#686868" stroke-width="1" fill="none"/><path d="M395.2,735.0H402.2M395.2,761.6H402.2" stroke="#686868" stroke-width="1" fill="none"/><path d="M413.0,736.9H420.0M413.0,765.5H420.0" stroke="#686868" stroke-width="1" fill="none"/><path d="M430.9,747.6H437.9M430.9,779.6H437.9" stroke="#686868" stroke-width="1" fill="none"/><path d="M448.7,756.4H455.7M448.7,806.4H455.7" stroke="#686868" stroke-width="1" fill="none"/><path d="M466.5,780.4H473.5M466.5,801.2H473.5" stroke="#686868" stroke-width="1" fill="none"/><path d="M484.3,786.7H491.3M484.3,804.7H491.3" stroke="#686868" stroke-width="1" fill="none"/><path d="M502.1,781.0H509.1M502.1,824.4H509.1" stroke="#686868" stroke-width="1" fill="none"/><path d="M520.0,782.1H527.0M520.0,813.3H527.0" stroke="#686868" stroke-width="1" fill="none"/><path d="M537.8,790.3H544.8M537.8,811.1H544.8" stroke="#686868" stroke-width="1" fill="none"/><path d="M555.6,793.5H562.6M555.6,820.7H562.6" stroke="#686868" stroke-width="1" fill="none"/><path d="M573.5,794.2H580.5M573.5,814.0H580.5" stroke="#686868" stroke-width="1" fill="none"/><path d="M591.3,803.1H598.3M591.3,811.1H598.3" stroke="#686868" stroke-width="1" fill="none"/><path d="M609.1,795.3H616.1M609.1,822.9H616.1" stroke="#686868" stroke-width="1" fill="none"/><path d="M113.5,957.0 L114.4,951.8 L115.3,946.5 L116.2,941.2 L117.1,935.9 L118.0,930.6 L118.8,925.4 L119.7,920.4 L120.6,915.5 L121.5,910.7 L122.5,905.8 L123.4,901.1 L124.4,896.4 L125.3,891.9 L126.2,887.7 L127.0,883.7 L127.8,880.1 L128.4,876.9 L129.1,874.2 L129.6,871.7 L130.1,869.5 L130.6,867.4 L131.1,865.4 L131.6,863.3 L132.2,861.1 L132.7,858.8 L133.3,856.6 L133.8,854.5 L134.4,852.3 L134.9,850.2 L135.5,848.0 L136.0,845.7 L136.6,843.4 L137.2,841.0 L137.8,838.5 L138.5,835.9 L139.1,833.3 L139.7,830.7 L140.4,828.1 L141.0,825.6 L141.7,823.2 L142.3,820.9 L142.9,818.5 L143.5,816.3 L144.2,814.0 L144.8,811.8 L145.4,809.7 L146.1,807.6 L146.7,805.5 L147.3,803.5 L148.0,801.5 L148.6,799.5 L149.2,797.6 L149.9,795.7 L150.5,793.9 L151.1,792.1 L151.8,790.3 L152.4,788.6 L153.0,787.0 L153.6,785.5 L154.1,784.0 L154.8,782.5 L155.4,781.0 L156.1,779.4 L156.8,777.7 L157.6,775.9 L158.4,774.1 L159.3,772.2 L160.2,770.3 L161.1,768.4 L162.1,766.4 L163.1,764.4 L164.1,762.5 L165.2,760.6 L166.3,758.6 L167.4,756.6 L168.6,754.6 L169.8,752.6 L171.0,750.6 L172.2,748.7 L173.4,746.8 L174.6,744.9 L175.8,743.1 L176.9,741.2 L178.1,739.4 L179.3,737.7 L180.5,735.9 L181.7,734.2 L182.9,732.6 L184.1,731.0 L185.3,729.5 L186.4,728.0 L187.6,726.5 L188.8,725.1 L189.9,723.8 L191.1,722.5 L192.3,721.2 L193.5,720.0 L194.7,718.8 L195.9,717.7 L197.1,716.7 L198.3,715.6 L199.5,714.6 L200.7,713.7 L201.9,712.7 L203.1,711.8 L204.3,710.9 L205.5,710.0 L206.6,709.2 L207.8,708.3 L209.0,707.5 L210.2,706.8 L211.4,706.0 L212.5,705.3 L213.7,704.6 L214.9,703.9 L216.1,703.2 L217.3,702.5 L218.4,701.9 L219.6,701.3 L220.8,700.7 L222.0,700.1 L223.2,699.6 L224.4,699.0 L225.6,698.5 L226.8,698.0 L228.0,697.5 L229.2,697.0 L230.4,696.5 L231.6,696.0 L232.7,695.6 L233.8,695.1 L235.0,694.7 L236.1,694.3 L237.2,693.9 L238.4,693.5 L239.7,693.1 L241.0,692.7 L242.3,692.4 L243.7,692.0 L245.1,691.6 L246.6,691.3 L248.0,691.0 L249.5,690.6 L251.1,690.3 L252.8,690.0 L254.5,689.6 L256.3,689.3 L258.2,688.9 L260.0,688.6 L261.8,688.3 L263.5,688.0 L265.0,687.8 L266.4,687.6 L267.5,687.5 L268.6,687.4 L269.6,687.3 L270.7,687.2 L271.8,687.2 L273.1,687.0 L274.6,686.9 L276.4,686.7 L278.4,686.5 L280.5,686.3 L282.7,686.0 L285.0,685.8 L287.2,685.5 L289.5,685.3 L291.8,685.1 L293.9,684.9 L296.2,684.7 L298.4,684.5 L300.6,684.3 L302.9,684.2 L305.1,684.0 L307.3,683.8 L309.6,683.7 L311.8,683.6 L314.0,683.4 L316.3,683.3 L318.5,683.2 L320.7,683.1 L322.9,683.0 L325.2,682.9 L327.4,682.8 L327.4,682.5 L329.6,684.7 L331.9,686.9 L334.1,689.1 L336.3,691.3 L338.5,693.5 L340.8,695.8 L343.0,698.0 L345.2,700.3 L347.5,702.6 L349.7,705.0 L351.9,707.4 L354.1,709.9 L356.4,712.3 L358.6,714.7 L360.8,717.0 L363.0,719.3 L365.3,721.5 L367.5,723.7 L369.7,725.9 L372.0,728.0 L374.2,730.2 L376.4,732.2 L378.6,734.2 L380.9,736.2 L383.1,738.1 L385.3,740.0 L387.6,741.9 L389.8,743.7 L392.0,745.4 L394.2,747.1 L396.5,748.8 L398.7,750.4 L400.9,751.9 L403.2,753.4 L405.4,754.9 L407.6,756.2 L409.8,757.6 L412.1,758.9 L414.3,760.2 L416.5,761.5 L418.8,762.8 L421.0,764.0 L423.2,765.3 L425.4,766.5 L427.7,767.7 L429.9,768.8 L432.1,770.0 L434.4,771.1 L436.6,772.2 L438.8,773.3 L441.0,774.3 L443.3,775.4 L445.5,776.4 L447.7,777.4 L449.9,778.3 L452.2,779.2 L454.4,780.1 L456.6,780.9 L458.9,781.7 L461.1,782.4 L463.3,783.2 L465.5,783.9 L467.8,784.6 L470.0,785.3 L472.2,786.0 L474.5,786.7 L476.7,787.3 L478.9,788.0 L481.1,788.6 L483.4,789.2 L485.6,789.8 L487.8,790.4 L490.1,790.9 L492.3,791.5 L494.5,792.0 L496.7,792.5 L499.0,792.9 L501.2,793.4 L503.4,793.8 L505.6,794.3 L507.9,794.8 L510.1,795.2 L512.3,795.7 L514.6,796.1 L516.8,796.5 L519.0,797.0 L521.2,797.4 L523.5,797.8 L525.7,798.2 L527.9,798.6 L530.2,799.0 L532.4,799.3 L534.6,799.7 L536.8,800.1 L539.1,800.4 L541.3,800.8 L543.5,801.2 L545.8,801.5 L548.0,801.9 L550.2,802.2 L552.4,802.6 L554.7,802.9 L556.9,803.3 L559.1,803.6 L561.4,803.9 L563.6,804.2 L565.8,804.5 L568.0,804.8 L570.3,805.0 L572.5,805.3 L574.7,805.5 L577.0,805.8 L579.2,806.1 L581.4,806.3 L583.6,806.5 L585.9,806.8 L588.1,807.0 L590.3,807.3 L592.5,807.5 L594.8,807.7 L597.0,807.9 L599.2,808.1 L601.5,808.3 L603.7,808.5 L605.9,808.7 L608.1,808.9 L610.4,809.1 L612.6,809.3" fill="none" stroke="#686868" stroke-width="1.2" stroke-linejoin="round"/></g><g id="panelD" clip-path="url(#clipD)"><path d="M113.5,1280.7V1283.7" stroke="#686868" stroke-width="1" fill="none"/><path d="M131.3,1126.0V1154.0" stroke="#686868" stroke-width="1" fill="none"/><path d="M149.2,1087.5V1104.5" stroke="#686868" stroke-width="1" fill="none"/><path d="M167.0,1042.0V1100.0" stroke="#686868" stroke-width="1" fill="none"/><path d="M184.8,1025.9V1064.5" stroke="#686868" stroke-width="1" fill="none"/><path d="M202.6,1025.3V1050.7" stroke="#686868" stroke-width="1" fill="none"/><path d="M220.4,1017.0V1044.6" stroke="#686868" stroke-width="1" fill="none"/><path d="M238.3,1024.0V1040.6" stroke="#686868" stroke-width="1" fill="none"/><path d="M256.1,1023.8V1040.8" stroke="#686868" stroke-width="1" fill="none"/><path d="M273.9,1023.3V1043.7" stroke="#686868" stroke-width="1" fill="none"/><path d="M291.8,1021.9V1041.3" stroke="#686868" stroke-width="1" fill="none"/><path d="M309.6,1019.2V1048.4" stroke="#686868" stroke-width="1" fill="none"/><path d="M327.4,1024.3V1044.1" stroke="#686868" stroke-width="1" fill="none"/><path d="M345.2,1041.0V1049.0" stroke="#686868" stroke-width="1" fill="none"/><path d="M363.0,1046.4V1066.4" stroke="#686868" stroke-width="1" fill="none"/><path d="M380.9,1054.2V1084.2" stroke="#686868" stroke-width="1" fill="none"/><path d="M398.7,1080.0V1090.0" stroke="#686868" stroke-width="1" fill="none"/><path d="M416.5,1062.1V1102.1" stroke="#686868" stroke-width="1" fill="none"/><path d="M434.4,1091.9V1111.9" stroke="#686868" stroke-width="1" fill="none"/><path d="M452.2,1096.9V1126.5" stroke="#686868" stroke-width="1" fill="none"/><path d="M470.0,1111.6V1131.0" stroke="#686868" stroke-width="1" fill="none"/><path d="M487.8,1120.3V1130.3" stroke="#686868" stroke-width="1" fill="none"/><path d="M505.6,1126.4V1134.4" stroke="#686868" stroke-width="1" fill="none"/><path d="M523.5,1124.8V1134.8" stroke="#686868" stroke-width="1" fill="none"/><path d="M541.3,1117.9V1147.5" stroke="#686868" stroke-width="1" fill="none"/><path d="M559.1,1125.4V1144.2" stroke="#686868" stroke-width="1" fill="none"/><path d="M577.0,1126.5V1144.5" stroke="#686868" stroke-width="1" fill="none"/><path d="M594.8,1123.2V1151.2" stroke="#686868" stroke-width="1" fill="none"/><path d="M612.6,1134.9V1142.9" stroke="#686868" stroke-width="1" fill="none"/><path d="M106.7,1282.2L113.5,1275.4L120.3,1282.2L113.5,1289.0Z" fill="#fff" stroke="#111" stroke-width="1.4"/><path d="M124.5,1140.0L131.3,1133.2L138.2,1140.0L131.3,1146.8Z" fill="#fff" stroke="#111" stroke-width="1.4"/><path d="M142.3,1096.0L149.2,1089.2L156.0,1096.0L149.2,1102.8Z" fill="#fff" stroke="#111" stroke-width="1.4"/><path d="M160.1,1071.0L167.0,1064.2L173.8,1071.0L167.0,1077.8Z" fill="#fff" stroke="#111" stroke-width="1.4"/><path d="M178.0,1045.2L184.8,1038.4L191.7,1045.2L184.8,1052.0Z" fill="#fff" stroke="#111" stroke-width="1.4"/><path d="M195.8,1038.0L202.6,1031.2L209.5,1038.0L202.6,1044.8Z" fill="#fff" stroke="#111" stroke-width="1.4"/><path d="M213.6,1030.8L220.4,1023.9L227.3,1030.8L220.4,1037.6Z" fill="#fff" stroke="#111" stroke-width="1.4"/><path d="M231.4,1032.3L238.3,1025.5L245.1,1032.3L238.3,1039.1Z" fill="#fff" stroke="#111" stroke-width="1.4"/><path d="M249.3,1032.3L256.1,1025.5L263.0,1032.3L256.1,1039.1Z" fill="#fff" stroke="#111" stroke-width="1.4"/><path d="M267.1,1033.5L273.9,1026.7L280.8,1033.5L273.9,1040.3Z" fill="#fff" stroke="#111" stroke-width="1.4"/><path d="M284.9,1031.6L291.8,1024.8L298.6,1031.6L291.8,1038.4Z" fill="#fff" stroke="#111" stroke-width="1.4"/><path d="M302.7,1033.8L309.6,1027.0L316.4,1033.8L309.6,1040.6Z" fill="#fff" stroke="#111" stroke-width="1.4"/><path d="M320.5,1034.2L327.4,1027.4L334.2,1034.2L327.4,1041.0Z" fill="#8a8a8a" stroke="#111" stroke-width="1.4"/><path d="M338.4,1045.0L345.2,1038.2L352.1,1045.0L345.2,1051.8Z" fill="#8a8a8a" stroke="#111" stroke-width="1.4"/><path d="M356.2,1056.4L363.0,1049.6L369.9,1056.4L363.0,1063.2Z" fill="#8a8a8a" stroke="#111" stroke-width="1.4"/><path d="M374.0,1069.2L380.9,1062.4L387.7,1069.2L380.9,1076.0Z" fill="#8a8a8a" stroke="#111" stroke-width="1.4"/><path d="M391.8,1085.0L398.7,1078.2L405.6,1085.0L398.7,1091.8Z" fill="#8a8a8a" stroke="#111" stroke-width="1.4"/><path d="M409.7,1082.1L416.5,1075.2L423.4,1082.1L416.5,1088.9Z" fill="#8a8a8a" stroke="#111" stroke-width="1.4"/><path d="M427.5,1101.9L434.4,1095.1L441.2,1101.9L434.4,1108.8Z" fill="#8a8a8a" stroke="#111" stroke-width="1.4"/><path d="M445.3,1111.7L452.2,1104.9L459.0,1111.7L452.2,1118.5Z" fill="#8a8a8a" stroke="#111" stroke-width="1.4"/><path d="M463.1,1121.3L470.0,1114.5L476.9,1121.3L470.0,1128.1Z" fill="#8a8a8a" stroke="#111" stroke-width="1.4"/><path d="M481.0,1125.3L487.8,1118.5L494.7,1125.3L487.8,1132.1Z" fill="#8a8a8a" stroke="#111" stroke-width="1.4"/><path d="M498.8,1130.4L505.6,1123.6L512.5,1130.4L505.6,1137.2Z" fill="#8a8a8a" stroke="#111" stroke-width="1.4"/><path d="M516.6,1129.8L523.5,1123.0L530.3,1129.8L523.5,1136.6Z" fill="#8a8a8a" stroke="#111" stroke-width="1.4"/><path d="M534.4,1132.7L541.3,1125.9L548.1,1132.7L541.3,1139.5Z" fill="#8a8a8a" stroke="#111" stroke-width="1.4"/><path d="M552.3,1134.8L559.1,1128.0L566.0,1134.8L559.1,1141.6Z" fill="#8a8a8a" stroke="#111" stroke-width="1.4"/><path d="M570.1,1135.5L577.0,1128.7L583.8,1135.5L577.0,1142.3Z" fill="#8a8a8a" stroke="#111" stroke-width="1.4"/><path d="M587.9,1137.2L594.8,1130.4L601.6,1137.2L594.8,1144.0Z" fill="#8a8a8a" stroke="#111" stroke-width="1.4"/><path d="M605.7,1138.9L612.6,1132.1L619.4,1138.9L612.6,1145.8Z" fill="#8a8a8a" stroke="#111" stroke-width="1.4"/><path d="M110.0,1280.7H117.0M110.0,1283.7H117.0" stroke="#686868" stroke-width="1" fill="none"/><path d="M127.8,1126.0H134.8M127.8,1154.0H134.8" stroke="#686868" stroke-width="1" fill="none"/><path d="M145.7,1087.5H152.7M145.7,1104.5H152.7" stroke="#686868" stroke-width="1" fill="none"/><path d="M163.5,1042.0H170.5M163.5,1100.0H170.5" stroke="#686868" stroke-width="1" fill="none"/><path d="M181.3,1025.9H188.3M181.3,1064.5H188.3" stroke="#686868" stroke-width="1" fill="none"/><path d="M199.1,1025.3H206.1M199.1,1050.7H206.1" stroke="#686868" stroke-width="1" fill="none"/><path d="M216.9,1017.0H223.9M216.9,1044.6H223.9" stroke="#686868" stroke-width="1" fill="none"/><path d="M234.8,1024.0H241.8M234.8,1040.6H241.8" stroke="#686868" stroke-width="1" fill="none"/><path d="M252.6,1023.8H259.6M252.6,1040.8H259.6" stroke="#686868" stroke-width="1" fill="none"/><path d="M270.4,1023.3H277.4M270.4,1043.7H277.4" stroke="#686868" stroke-width="1" fill="none"/><path d="M288.2,1021.9H295.2M288.2,1041.3H295.2" stroke="#686868" stroke-width="1" fill="none"/><path d="M306.1,1019.2H313.1M306.1,1048.4H313.1" stroke="#686868" stroke-width="1" fill="none"/><path d="M323.9,1024.3H330.9M323.9,1044.1H330.9" stroke="#686868" stroke-width="1" fill="none"/><path d="M341.7,1041.0H348.7M341.7,1049.0H348.7" stroke="#686868" stroke-width="1" fill="none"/><path d="M359.5,1046.4H366.5M359.5,1066.4H366.5" stroke="#686868" stroke-width="1" fill="none"/><path d="M377.4,1054.2H384.4M377.4,1084.2H384.4" stroke="#686868" stroke-width="1" fill="none"/><path d="M395.2,1080.0H402.2M395.2,1090.0H402.2" stroke="#686868" stroke-width="1" fill="none"/><path d="M413.0,1062.1H420.0M413.0,1102.1H420.0" stroke="#686868" stroke-width="1" fill="none"/><path d="M430.9,1091.9H437.9M430.9,1111.9H437.9" stroke="#686868" stroke-width="1" fill="none"/><path d="M448.7,1096.9H455.7M448.7,1126.5H455.7" stroke="#686868" stroke-width="1" fill="none"/><path d="M466.5,1111.6H473.5M466.5,1131.0H473.5" stroke="#686868" stroke-width="1" fill="none"/><path d="M484.3,1120.3H491.3M484.3,1130.3H491.3" stroke="#686868" stroke-width="1" fill="none"/><path d="M502.1,1126.4H509.1M502.1,1134.4H509.1" stroke="#686868" stroke-width="1" fill="none"/><path d="M520.0,1124.8H527.0M520.0,1134.8H527.0" stroke="#686868" stroke-width="1" fill="none"/><path d="M537.8,1117.9H544.8M537.8,1147.5H544.8" stroke="#686868" stroke-width="1" fill="none"/><path d="M555.6,1125.4H562.6M555.6,1144.2H562.6" stroke="#686868" stroke-width="1" fill="none"/><path d="M573.5,1126.5H580.5M573.5,1144.5H580.5" stroke="#686868" stroke-width="1" fill="none"/><path d="M591.3,1123.2H598.3M591.3,1151.2H598.3" stroke="#686868" stroke-width="1" fill="none"/><path d="M609.1,1134.9H616.1M609.1,1142.9H616.1" stroke="#686868" stroke-width="1" fill="none"/><path d="M113.5,1282.2 L114.4,1273.1 L115.3,1264.4 L116.2,1256.0 L117.1,1247.8 L118.0,1240.0 L118.8,1232.5 L119.7,1225.2 L120.6,1218.2 L121.5,1211.4 L122.4,1204.9 L123.3,1198.7 L124.2,1192.6 L125.1,1186.8 L126.0,1181.2 L126.9,1175.8 L127.8,1170.6 L128.7,1165.6 L129.5,1160.7 L130.4,1156.1 L131.3,1151.6 L132.2,1147.3 L133.1,1143.1 L134.0,1139.1 L134.9,1135.2 L135.8,1131.5 L136.7,1127.9 L137.6,1124.4 L138.5,1121.1 L139.3,1117.9 L140.2,1114.8 L141.1,1111.8 L142.0,1108.9 L142.9,1106.1 L143.8,1103.5 L144.7,1100.9 L145.6,1098.4 L146.5,1096.0 L147.4,1093.7 L148.3,1091.5 L149.2,1089.3 L150.0,1087.3 L150.9,1085.3 L151.8,1083.4 L152.7,1081.5 L153.6,1079.7 L154.5,1078.0 L155.4,1076.4 L156.3,1074.8 L157.2,1073.3 L158.1,1071.8 L159.0,1070.3 L159.8,1069.0 L160.7,1067.7 L161.6,1066.4 L162.5,1065.2 L163.4,1064.0 L164.3,1062.8 L165.2,1061.7 L166.1,1060.7 L167.0,1059.6 L167.9,1058.7 L168.8,1057.7 L169.6,1056.8 L170.5,1055.9 L171.4,1055.1 L172.3,1054.3 L173.2,1053.5 L174.1,1052.7 L175.0,1052.0 L175.9,1051.3 L176.8,1050.6 L177.7,1049.9 L178.6,1049.3 L179.5,1048.7 L180.3,1048.1 L181.2,1047.6 L182.1,1047.0 L183.0,1046.5 L183.9,1046.0 L184.8,1045.5 L185.7,1045.0 L186.6,1044.6 L187.5,1044.1 L188.4,1043.7 L189.3,1043.3 L190.1,1042.9 L191.0,1042.6 L191.9,1042.2 L192.8,1041.8 L193.7,1041.5 L194.6,1041.2 L195.5,1040.9 L196.4,1040.6 L197.3,1040.3 L198.2,1040.0 L199.1,1039.7 L200.0,1039.5 L200.8,1039.2 L201.7,1039.0 L202.6,1038.7 L203.5,1038.5 L204.4,1038.3 L205.3,1038.1 L206.2,1037.9 L207.1,1037.7 L208.0,1037.5 L208.9,1037.3 L209.8,1037.2 L210.6,1037.0 L211.5,1036.8 L212.4,1036.7 L213.3,1036.5 L214.2,1036.4 L215.1,1036.3 L216.0,1036.1 L216.9,1036.0 L217.8,1035.9 L218.7,1035.8 L219.6,1035.6 L220.4,1035.5 L221.3,1035.4 L222.2,1035.3 L223.1,1035.2 L224.0,1035.1 L224.9,1035.0 L225.8,1034.9 L226.7,1034.9 L227.6,1034.8 L228.5,1034.7 L229.4,1034.6 L230.3,1034.6 L231.1,1034.5 L232.0,1034.4 L232.9,1034.3 L233.8,1034.3 L234.7,1034.2 L235.6,1034.2 L236.5,1034.1 L237.4,1034.1 L238.3,1034.0 L239.2,1033.9 L240.1,1033.9 L240.9,1033.9 L241.8,1033.8 L242.7,1033.8 L243.6,1033.7 L244.5,1033.7 L245.4,1033.6 L246.3,1033.6 L247.2,1033.6 L248.1,1033.5 L249.0,1033.5 L249.9,1033.5 L250.8,1033.4 L251.6,1033.4 L252.5,1033.4 L253.4,1033.3 L254.3,1033.3 L255.2,1033.3 L256.1,1033.3 L257.0,1033.2 L257.9,1033.2 L258.8,1033.2 L259.7,1033.2 L260.6,1033.2 L261.4,1033.1 L262.3,1033.1 L263.2,1033.1 L264.1,1033.1 L265.0,1033.1 L265.9,1033.0 L266.8,1033.0 L267.7,1033.0 L268.6,1033.0 L269.5,1033.0 L270.4,1033.0 L271.3,1033.0 L272.1,1032.9 L273.0,1032.9 L273.9,1032.9 L274.8,1032.9 L275.7,1032.9 L276.6,1032.9 L277.5,1032.9 L278.4,1032.9 L279.3,1032.9 L280.2,1032.8 L281.1,1032.8 L281.9,1032.8 L282.8,1032.8 L283.7,1032.8 L284.6,1032.8 L285.5,1032.8 L286.4,1032.8 L287.3,1032.8 L288.2,1032.8 L289.1,1032.8 L290.0,1032.8 L290.9,1032.8 L291.8,1032.8 L292.6,1032.7 L293.5,1032.7 L294.4,1032.7 L295.3,1032.7 L296.2,1032.7 L297.1,1032.7 L298.0,1032.7 L298.9,1032.7 L299.8,1032.7 L300.7,1032.7 L301.6,1032.7 L302.4,1032.7 L303.3,1032.7 L304.2,1032.7 L305.1,1032.7 L306.0,1032.7 L306.9,1032.7 L307.8,1032.7 L308.7,1032.7 L309.6,1032.7 L310.5,1032.7 L311.4,1032.7 L312.2,1032.7 L313.1,1032.7 L314.0,1032.7 L314.9,1032.7 L315.8,1032.7 L316.7,1032.7 L317.6,1032.7 L318.5,1032.6 L319.4,1032.6 L320.3,1032.6 L321.2,1032.6 L322.1,1032.6 L322.9,1032.6 L323.8,1032.6 L324.7,1032.6 L325.6,1032.6 L326.5,1032.6 L327.4,1032.6 L327.4,1032.8 L329.6,1034.5 L331.9,1036.1 L334.1,1037.8 L336.3,1039.5 L338.5,1041.2 L340.8,1042.8 L343.0,1044.5 L345.2,1046.2 L347.5,1047.9 L349.7,1049.6 L351.9,1051.3 L354.1,1053.0 L356.4,1054.7 L358.6,1056.4 L360.8,1058.1 L363.0,1059.8 L365.3,1061.5 L367.5,1063.2 L369.7,1064.9 L372.0,1066.5 L374.2,1068.2 L376.4,1069.9 L378.6,1071.5 L380.9,1073.1 L383.1,1074.7 L385.3,1076.3 L387.6,1077.9 L389.8,1079.4 L392.0,1081.0 L394.2,1082.5 L396.5,1084.0 L398.7,1085.4 L400.9,1086.8 L403.2,1088.2 L405.4,1089.5 L407.6,1090.8 L409.8,1092.1 L412.1,1093.4 L414.3,1094.6 L416.5,1095.8 L418.8,1097.0 L421.0,1098.1 L423.2,1099.2 L425.4,1100.3 L427.7,1101.3 L429.9,1102.3 L432.1,1103.3 L434.4,1104.3 L436.6,1105.3 L438.8,1106.2 L441.0,1107.1 L443.3,1108.0 L445.5,1108.9 L447.7,1109.7 L449.9,1110.6 L452.2,1111.4 L454.4,1112.2 L456.6,1113.0 L458.9,1113.8 L461.1,1114.6 L463.3,1115.3 L465.5,1116.1 L467.8,1116.8 L470.0,1117.5 L472.2,1118.2 L474.5,1118.9 L476.7,1119.6 L478.9,1120.2 L481.1,1120.9 L483.4,1121.5 L485.6,1122.1 L487.8,1122.7 L490.1,1123.3 L492.3,1123.9 L494.5,1124.4 L496.7,1125.0 L499.0,1125.5 L501.2,1126.0 L503.4,1126.5 L505.6,1127.0 L507.9,1127.5 L510.1,1127.9 L512.3,1128.3 L514.6,1128.8 L516.8,1129.2 L519.0,1129.5 L521.2,1129.9 L523.5,1130.3 L525.7,1130.7 L527.9,1131.0 L530.2,1131.3 L532.4,1131.7 L534.6,1132.0 L536.8,1132.3 L539.1,1132.6 L541.3,1132.9 L543.5,1133.2 L545.8,1133.5 L548.0,1133.7 L550.2,1134.0 L552.4,1134.3 L554.7,1134.5 L556.9,1134.8 L559.1,1135.0 L561.4,1135.2 L563.6,1135.5 L565.8,1135.7 L568.0,1135.9 L570.3,1136.2 L572.5,1136.4 L574.7,1136.6 L577.0,1136.8 L579.2,1137.0 L581.4,1137.2 L583.6,1137.4 L585.9,1137.6 L588.1,1137.8 L590.3,1137.9 L592.5,1138.1 L594.8,1138.3 L597.0,1138.5 L599.2,1138.6 L601.5,1138.8 L603.7,1139.0 L605.9,1139.1 L608.1,1139.3 L610.4,1139.4 L612.6,1139.6" fill="none" stroke="#686868" stroke-width="1.2" stroke-linejoin="round"/></g>
<path d="M110.5,8.5V1285.6" stroke="#111" stroke-width="1.4" fill="none"/><path d="M109.8,332.2H631" stroke="#111" stroke-width="1.4" fill="none"/><path d="M109.8,647.4H631" stroke="#111" stroke-width="1.4" fill="none"/><path d="M109.8,966.5H631" stroke="#111" stroke-width="1.4" fill="none"/><path d="M109.8,1285.0H631" stroke="#111" stroke-width="1.4" fill="none"/>
<path d="M103.6,329.4H110.5" stroke="#111" stroke-width="1.3"/><text x="98.2" y="335.6" font-size="19" text-anchor="end">0</text><path d="M103.6,265.5H110.5" stroke="#111" stroke-width="1.3"/><text x="98.2" y="271.7" font-size="19" text-anchor="end">4</text><path d="M103.6,201.6H110.5" stroke="#111" stroke-width="1.3"/><text x="98.2" y="207.8" font-size="19" text-anchor="end">8</text><path d="M103.6,137.8H110.5" stroke="#111" stroke-width="1.3"/><text x="98.2" y="144.0" font-size="19" text-anchor="end">12</text><path d="M103.6,73.9H110.5" stroke="#111" stroke-width="1.3"/><text x="98.2" y="80.1" font-size="19" text-anchor="end">16</text><path d="M103.6,10.0H110.5" stroke="#111" stroke-width="1.3"/><text x="98.2" y="16.2" font-size="19" text-anchor="end">20</text><path d="M103.6,644.2H110.5" stroke="#111" stroke-width="1.3"/><text x="98.0" y="650.4" font-size="19" text-anchor="end">0</text><path d="M103.6,574.1H110.5" stroke="#111" stroke-width="1.3"/><text x="98.0" y="580.3" font-size="19" text-anchor="end">1</text><path d="M103.6,504.0H110.5" stroke="#111" stroke-width="1.3"/><text x="98.0" y="510.2" font-size="19" text-anchor="end">2</text><path d="M103.6,433.9H110.5" stroke="#111" stroke-width="1.3"/><text x="98.0" y="440.1" font-size="19" text-anchor="end">3</text><path d="M103.6,363.8H110.5" stroke="#111" stroke-width="1.3"/><text x="98.0" y="370.0" font-size="19" text-anchor="end">4</text><path d="M103.6,957.5H110.5" stroke="#111" stroke-width="1.3"/><text x="98.2" y="963.7" font-size="19" text-anchor="end">0.0</text><path d="M103.6,891.2H110.5" stroke="#111" stroke-width="1.3"/><text x="98.2" y="897.4" font-size="19" text-anchor="end">1.5</text><path d="M103.6,824.8H110.5" stroke="#111" stroke-width="1.3"/><text x="98.2" y="831.0" font-size="19" text-anchor="end">3.0</text><path d="M103.6,758.5H110.5" stroke="#111" stroke-width="1.3"/><text x="98.2" y="764.7" font-size="19" text-anchor="end">4.5</text><path d="M103.6,692.1H110.5" stroke="#111" stroke-width="1.3"/><text x="98.2" y="698.3" font-size="19" text-anchor="end">6.0</text><path d="M103.6,1282.5H110.5" stroke="#111" stroke-width="1.3"/><text x="98.2" y="1288.7" font-size="19" text-anchor="end">0.0</text><path d="M103.6,1233.8H110.5" stroke="#111" stroke-width="1.3"/><text x="98.2" y="1240.0" font-size="19" text-anchor="end">0.1</text><path d="M103.6,1185.2H110.5" stroke="#111" stroke-width="1.3"/><text x="98.2" y="1191.4" font-size="19" text-anchor="end">0.2</text><path d="M103.6,1136.5H110.5" stroke="#111" stroke-width="1.3"/><text x="98.2" y="1142.8" font-size="19" text-anchor="end">0.3</text><path d="M103.6,1087.9H110.5" stroke="#111" stroke-width="1.3"/><text x="98.2" y="1094.1" font-size="19" text-anchor="end">0.4</text><path d="M103.6,1039.2H110.5" stroke="#111" stroke-width="1.3"/><text x="98.2" y="1045.5" font-size="19" text-anchor="end">0.5</text><path d="M103.6,990.6H110.5" stroke="#111" stroke-width="1.3"/><text x="98.2" y="996.8" font-size="19" text-anchor="end">0.6</text><path d="M113.5,1285V1291.8" stroke="#111" stroke-width="1.3"/><text x="113.5" y="1315.8" font-size="22.7" text-anchor="middle">0</text><path d="M184.8,1285V1291.8" stroke="#111" stroke-width="1.3"/><text x="184.8" y="1315.8" font-size="22.7" text-anchor="middle">20</text><path d="M256.1,1285V1291.8" stroke="#111" stroke-width="1.3"/><text x="256.1" y="1315.8" font-size="22.7" text-anchor="middle">40</text><path d="M327.4,1285V1291.8" stroke="#111" stroke-width="1.3"/><text x="327.4" y="1315.8" font-size="22.7" text-anchor="middle">60</text><path d="M398.7,1285V1291.8" stroke="#111" stroke-width="1.3"/><text x="398.7" y="1315.8" font-size="22.7" text-anchor="middle">80</text><path d="M470.0,1285V1291.8" stroke="#111" stroke-width="1.3"/><text x="470.0" y="1315.8" font-size="22.7" text-anchor="middle">100</text><path d="M541.3,1285V1291.8" stroke="#111" stroke-width="1.3"/><text x="541.3" y="1315.8" font-size="22.7" text-anchor="middle">120</text><path d="M612.6,1285V1291.8" stroke="#111" stroke-width="1.3"/><text x="612.6" y="1315.8" font-size="22.7" text-anchor="middle">140</text><text x="384.3" y="1348.2" font-size="30.4" text-anchor="middle">Time (min)</text>
<text transform="translate(69.3,306.5) rotate(-90)" font-size="23.5" style="stroke-width:0.2px">Vio. (mol mol<tspan font-size="16.5" dy="-9.5">-1</tspan><tspan dy="9.5">chl </tspan><tspan font-style="italic">a</tspan> <tspan dy="2">×</tspan><tspan dy="-2"> 100)</tspan></text><text transform="translate(64,618) rotate(-90)" font-size="23.5" style="stroke-width:0.2px">Anth. (mol mol<tspan font-size="16.5" dy="-9.5">-1</tspan><tspan dy="9.5">chl </tspan><tspan font-style="italic">a</tspan> <tspan dy="2">×</tspan><tspan dy="-2"> 100)</tspan></text><text transform="translate(64,946.7) rotate(-90)" font-size="23.5" style="stroke-width:0.2px">Zea. (mol mol<tspan font-size="16.5" dy="-9.5">-1</tspan><tspan dy="9.5">chl </tspan><tspan font-style="italic">a</tspan> <tspan dy="2">×</tspan><tspan dy="-2"> 100)</tspan></text><text transform="translate(65.3,1267) rotate(-90)" font-size="23.5" style="stroke-width:0.2px">DPS (mol mol<tspan font-size="16.5" dy="-9.5">-1</tspan><tspan dy="9.5">chl </tspan><tspan font-style="italic">a</tspan> <tspan dy="2">×</tspan><tspan dy="-2"> 100)</tspan></text>
<text x="1.5" y="32.6" font-size="27" font-weight="bold">A</text>
<text x="1" y="357.4" font-size="27" font-weight="bold">B</text>
<text x="1" y="673.3" font-size="27" font-weight="bold">C</text>
<text x="1" y="988.4" font-size="27" font-weight="bold">D</text>
</svg>
</body></html>
